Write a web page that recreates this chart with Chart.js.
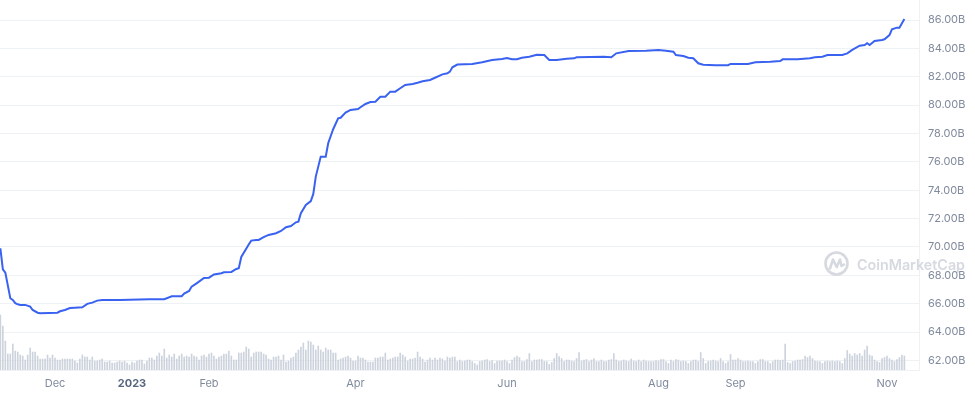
<!DOCTYPE html>
<html>
<head>
<meta charset="utf-8">
<script src="https://cdn.jsdelivr.net/npm/chart.js@4/dist/chart.umd.min.js"></script>
<style>
html,body{margin:0;padding:0;background:#fff;}
#wrap{width:975px;height:396px;position:relative;}
</style>
</head>
<body>
<div id="wrap"><canvas id="c" width="975" height="396"></canvas></div>
<script>
// Day index 0 = 9 Nov 2022 (one point per day in volume; line sampled at read-off days)
const lineDays = [0,1,2,4,5,6,7,8,10,12,13,15,16,23,24,26,28,30,33,35,37,39,41,48,60,66,69,73,74,76,77,79,82,84,86,89,90,93,95,96,97,100,101,103,104,106,108,111,113,115,117,119,120,121,123,125,126,127,129,131,132,134,136,137,139,141,144,145,147,149,151,153,155,157,159,161,163,166,168,170,173,175,178,180,181,182,184,190,194,198,202,204,206,208,210,213,216,219,221,224,228,231,232,243,246,248,253,260,265,268,271,272,275,277,279,281,283,288,293,294,301,304,310,314,315,321,326,328,331,333,339,341,343,346,348,349,350,352,355,356,358,359,361,362,364];
const marketCapB = [69.91,68.43,68.19,66.39,66.27,66.04,65.96,65.92,65.92,65.80,65.56,65.37,65.33,65.37,65.47,65.56,65.70,65.72,65.75,65.99,66.08,66.22,66.27,66.27,66.32,66.32,66.53,66.53,66.71,66.90,67.21,67.44,67.82,67.84,68.06,68.15,68.22,68.24,68.45,68.50,69.30,70.18,70.45,70.50,70.50,70.69,70.85,70.97,71.13,71.39,71.48,71.74,71.79,72.38,72.96,73.24,73.74,74.96,76.37,76.37,77.31,78.30,79.07,79.11,79.47,79.66,79.73,79.85,80.08,80.22,80.24,80.59,80.59,80.95,80.95,81.19,81.42,81.49,81.58,81.68,81.77,81.93,82.17,82.24,82.36,82.67,82.86,82.90,83.02,83.18,83.25,83.32,83.23,83.23,83.34,83.41,83.55,83.53,83.18,83.18,83.27,83.30,83.37,83.41,83.37,83.65,83.82,83.84,83.89,83.84,83.77,83.53,83.46,83.34,83.30,82.95,82.85,82.81,82.81,82.90,82.90,83.02,83.06,83.11,83.23,83.23,83.30,83.37,83.41,83.53,83.53,83.65,83.89,84.19,84.24,84.36,84.24,84.52,84.59,84.64,84.94,85.34,85.46,85.46,86.07];

// daily volume (billions), days 0..364
const volumeB = [
110,88,58,32,32,52,38,36,30,28,20,30,44,36,36,28,22,22,22,30,24,30,24,20,20,22,22,22,22,22,18,14,22,30,26,26,20,26,18,18,20,22,16,16,18,14,14,16,18,16,18,14,10,16,14,18,20,20,12,18,24,24,
20,28,34,28,42,24,30,26,32,22,28,32,26,28,26,32,28,26,20,28,30,26,32,34,28,22,26,28,32,32,38,28,20,20,34,34,36,46,42,26,34,36,36,36,32,30,22,20,26,26,28,20,30,16,18,24,26,34,40,46,54,
40,58,56,50,40,48,40,36,44,40,40,34,34,20,22,24,26,28,24,18,18,28,24,24,20,16,16,16,24,24,26,26,34,20,22,24,26,26,34,30,26,18,22,22,24,36,26,22,16,20,24,20,24,20,24,22,18,26,24,26,26,
17,20,17,18,20,20,17,13,10,17,18,20,21,17,19,13,18,18,18,20,17,13,20,25,28,25,17,17,21,33,17,20,20,21,21,17,17,11,15,23,33,27,23,17,20,20,18,17,23,35,18,20,21,17,20,23,17,17,20,
17,17,20,21,33,20,17,18,20,18,17,22,18,17,20,17,20,18,17,17,17,19,18,21,21,17,13,20,17,21,20,17,18,17,13,17,20,20,17,35,23,13,17,18,20,18,17,23,17,13,17,31,20,20,23,20,17,17,18,
17,17,13,17,21,21,17,17,13,17,20,20,19,20,52,15,13,17,18,20,20,21,28,25,28,23,18,17,17,13,17,18,17,18,17,18,17,13,23,39,32,28,33,30,33,28,40,48,30,28,20,17,15,23,25,28,23,20,17,21,25,30,28];

const xTickDays = [22,53,84,143,204,265,296,357];
const xTickLabels = ['Dec','2023','Feb','Apr','Jun','Aug','Sep','Nov'];
const yTickValues = [62,64,66,68,70,72,74,76,78,80,82,84,86];

const linePoints = lineDays.map((d,i)=>({x:d, y:marketCapB[i]}));
const volPoints = volumeB.map((v,i)=>({x:i, y:v}));

const GRID = '#eff2f5';
const LABEL = '#808a9d';

const watermark = {
  id:'watermark',
  beforeDatasetsDraw(chart){
    const ctx = chart.ctx;
    ctx.save();
    const col = 'rgba(196,201,211,0.7)';
    ctx.strokeStyle = col; ctx.fillStyle = col;
    ctx.lineWidth = 2.6; ctx.lineJoin='round'; ctx.lineCap='round';
    const cx = 836.5, cy = 263.5, r = 11;
    ctx.beginPath(); ctx.arc(cx, cy, r, 0, Math.PI*2); ctx.stroke();
    ctx.beginPath();
    ctx.moveTo(cx-6.5, cy+5);
    ctx.lineTo(cx-3.5, cy-4);
    ctx.lineTo(cx+0.2, cy+3.5);
    ctx.lineTo(cx+3.5, cy-4);
    ctx.lineTo(cx+5, cy+2.5);
    ctx.lineTo(cx+7.5, cy+1);
    ctx.stroke();
    let size = 16;
    ctx.font = '600 '+size+'px Inter, "Open Sans", sans-serif';
    const w = ctx.measureText('CoinMarketCap').width;
    size = size * 108 / w;
    ctx.font = '600 '+size.toFixed(2)+'px Inter, "Open Sans", sans-serif';
    ctx.textBaseline = 'alphabetic';
    ctx.fillText('CoinMarketCap', 857, 269.5);
    ctx.restore();
  }
};

new Chart(document.getElementById('c'), {
  data: {
    datasets: [
      {type:'line', data: linePoints, borderColor:'#3a62f0', borderWidth:2, pointRadius:0, tension:0, fill:false, yAxisID:'y', order:0},
      {type:'bar', data: volPoints, backgroundColor:'#cdd3dd', barThickness:1, yAxisID:'y1', order:1}
    ]
  },
  options: {
    responsive:false, animation:false, devicePixelRatio:1,
    layout:{padding:0},
    plugins:{legend:{display:false}, tooltip:{enabled:false}},
    scales:{
      x:{
        type:'linear', min:-0.15, max:369.89, offset:false,
        grid:{display:false, drawTicks:false, offset:false},
        border:{display:true, color:GRID},
        ticks:{
          padding:7, autoSkip:false, maxRotation:0,
          callback:(v,i)=>xTickLabels[i],
          color:(c)=> xTickLabels[c.index]==='2023' ? '#58667e' : LABEL,
          font:(c)=> ({family:'Inter', size:11, weight: xTickLabels[c.index]==='2023' ? 'bold' : 'normal'})
        },
        afterBuildTicks:(s)=>{ s.ticks = xTickDays.map(v=>({value:v})); },
        afterFit:(s)=>{ s.height = 26; s.paddingLeft = 0; s.paddingRight = 0; }
      },
      y:{
        type:'linear', position:'right', min:61.33, max:87.41,
        grid:{color:GRID, drawTicks:false},
        border:{display:true, color:GRID},
        ticks:{padding:9, color:LABEL, font:{family:'Inter', size:11}, callback:(v)=>v.toFixed(2)+'B'},
        afterBuildTicks:(s)=>{ s.ticks = yTickValues.map(v=>({value:v})); },
        afterFit:(s)=>{ s.width = 56; s.paddingTop = 0; s.paddingBottom = 0; }
      },
      y1:{type:'linear', display:false, min:0, max:740}
    }
  },
  plugins:[watermark]
});
</script>
</body>
</html>
